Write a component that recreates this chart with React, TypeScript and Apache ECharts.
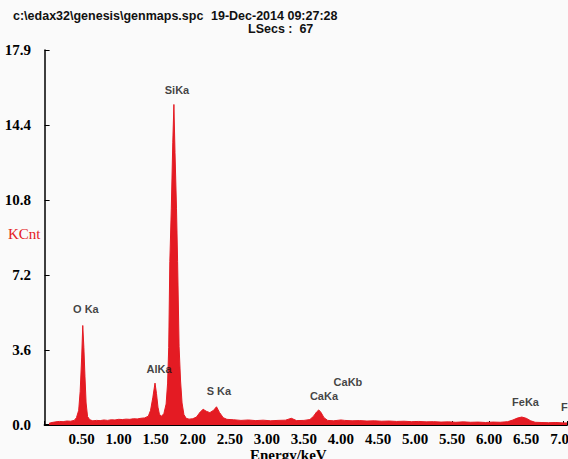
import React, { useEffect, useRef } from "react";
import * as echarts from "echarts";

const energies = [
  0.06, 0.1, 0.15, 0.2, 0.25, 0.3, 0.35, 0.4, 0.43, 0.46, 0.48, 0.5, 0.515, 0.53, 0.545, 0.56, 0.58, 0.61, 0.65,
  0.7, 0.75, 0.8, 0.85, 0.9, 0.95, 1.0, 1.05, 1.1, 1.15, 1.2, 1.25, 1.3, 1.35, 1.4, 1.43, 1.46, 1.49, 1.51, 1.53,
  1.55, 1.58, 1.61, 1.64, 1.66, 1.675, 1.69, 1.71, 1.73, 1.745, 1.76, 1.78, 1.795, 1.815, 1.835, 1.855, 1.88,
  1.91, 1.95, 2.0, 2.05, 2.1, 2.14, 2.18, 2.23, 2.28, 2.32, 2.36, 2.41, 2.46, 2.55, 2.65, 2.75, 2.85, 2.95, 3.05,
  3.15, 3.25, 3.33, 3.4, 3.5, 3.58, 3.63, 3.67, 3.7, 3.73, 3.77, 3.82, 3.9, 4.0, 4.05, 4.15, 4.25, 4.35, 4.45,
  4.55, 4.65, 4.75, 4.85, 4.95, 5.05, 5.15, 5.25, 5.35, 5.45, 5.55, 5.65, 5.75, 5.85, 5.95, 6.05, 6.15, 6.25,
  6.32, 6.38, 6.44, 6.5, 6.56, 6.62, 6.7, 6.8, 6.9, 7.0, 7.05,
];
const counts = [
  0.08, 0.12, 0.15, 0.17, 0.16, 0.19, 0.18, 0.22, 0.35, 0.7, 1.6, 3.2, 4.75, 3.7, 2.3, 1.05, 0.4, 0.25, 0.2,
  0.22, 0.21, 0.24, 0.22, 0.25, 0.24, 0.27, 0.26, 0.28, 0.27, 0.3, 0.29, 0.32, 0.34, 0.42, 0.7, 1.3, 2.0, 1.5, 0.85,
  0.5, 0.42, 0.55, 1.0, 2.0, 3.7, 7.8, 10.35, 13.5, 15.3, 13.0, 10.35, 7.8, 3.74, 2.1, 1.05, 0.5,
  0.32, 0.28, 0.3, 0.38, 0.62, 0.75, 0.66, 0.59, 0.7, 0.87, 0.6, 0.35, 0.27, 0.25, 0.22, 0.24, 0.21, 0.23, 0.2,
  0.22, 0.23, 0.32, 0.21, 0.22, 0.26, 0.42, 0.62, 0.72, 0.6, 0.35, 0.22, 0.2, 0.24, 0.22, 0.2, 0.21, 0.19, 0.2,
  0.18, 0.19, 0.17, 0.18, 0.16, 0.17, 0.15, 0.16, 0.14, 0.15, 0.13, 0.15, 0.13, 0.14, 0.12, 0.14, 0.13, 0.16,
  0.24, 0.33, 0.38, 0.32, 0.2, 0.13, 0.12, 0.11, 0.12, 0.1, 0.1,
];

const yTickLabels = ["0.0", "3.6", "7.2", "10.8", "14.4", "17.9"];

const peakNames = ["O Ka", "SiKa", "AlKa", "S Ka", "CaKa", "CaKb", "FeKa"];
const peakLabelE = [0.557, 1.787, 1.544, 2.353, 3.77, 4.094, 6.49];
const peakLabelY = [5.54, 16.0, 2.67, 1.62, 1.38, 2.03, 1.1];

const edgeLabel = { name: "FeKb", e: 6.97, y: 0.86 };

const RED = "#e41b23";

export default function App() {
  const ref = useRef<HTMLDivElement>(null);
  useEffect(() => {
    const chart = echarts.init(ref.current!, null, { renderer: "svg" });
    const spectrum = energies.map((e, i) => [e, counts[i]]);
    const peaks = peakNames.map((n, i) => ({ name: n, value: [peakLabelE[i], peakLabelY[i]] }));
    const serif = "'Liberation Serif', 'Times New Roman', serif";
    const sans = "'Liberation Sans', Arial, sans-serif";
    chart.setOption({
      animation: false,
      backgroundColor: "#fafafa",
      grid: { left: 44.6, right: 1, top: 50, bottom: 34, containLabel: false, outerBoundsMode: "none" },
      xAxis: {
        type: "value",
        min: 0,
        max: 7.05,
        interval: 0.5,
        splitLine: { show: false },
        axisLine: { lineStyle: { color: "#000", width: 2 } },
        axisTick: { inside: true, length: 4, lineStyle: { color: "#000", width: 1 } },
        axisLabel: {
          color: "#000",
          fontFamily: serif,
          fontWeight: "bold",
          fontSize: 15,
          margin: 6,
          formatter: (v: number) => (v === 0 || Math.abs(v * 2 - Math.round(v * 2)) > 1e-6 ? "" : v.toFixed(2)),
        },
      },
      yAxis: {
        type: "value",
        min: 0,
        max: 17.9,
        interval: 3.58,
        offset: 1.5,
        splitLine: { show: false },
        axisLine: { show: true, lineStyle: { color: "#000", width: 1.5 } },
        axisTick: { show: true, inside: true, length: 5, lineStyle: { color: "#000", width: 1 } },
        axisLabel: {
          color: "#000",
          fontFamily: serif,
          fontWeight: "bold",
          fontSize: 15,
          margin: 12,
          formatter: (v: number) => yTickLabels[Math.round(v / 3.58)] ?? "",
        },
      },
      series: [
        {
          type: "line",
          data: spectrum,
          showSymbol: false,
          symbol: "none",
          lineStyle: { color: RED, width: 1 },
          areaStyle: { color: RED, opacity: 1 },
          z: 2,
        },
        {
          type: "scatter",
          data: peaks,
          symbolSize: 0,
          clip: false,
          silent: true,
          z: 5,
          label: {
            show: true,
            position: "inside",
            formatter: (p: any) => p.name,
            color: "#111",
            fontFamily: sans,
            fontWeight: "bold",
            fontSize: 11,
          },
        },
        {
          type: "scatter",
          data: [{ name: edgeLabel.name, value: [edgeLabel.e, edgeLabel.y] }],
          symbolSize: 0,
          clip: false,
          silent: true,
          z: 5,
          label: {
            show: true,
            position: "right",
            distance: 0,
            formatter: (p: any) => p.name,
            color: "#111",
            fontFamily: sans,
            fontWeight: "bold",
            fontSize: 11,
          },
        },
      ],
      graphic: [
        {
          type: "text",
          left: 13,
          top: 9,
          style: { text: "c:\\edax32\\genesis\\genmaps.spc", fill: "#111", font: `bold 12.5px ${sans}` },
        },
        {
          type: "text",
          left: 211,
          top: 9,
          style: { text: "19-Dec-2014 09:27:28", fill: "#111", font: `bold 12.5px ${sans}` },
        },
        {
          type: "text",
          left: 248,
          top: 22,
          style: { text: "LSecs :  67", fill: "#111", font: `bold 12.5px ${sans}` },
        },
        {
          type: "text",
          left: 8,
          top: 226,
          style: { text: "KCnt", fill: RED, font: `15px ${serif}` },
        },
        {
          type: "text",
          left: 250,
          top: 447,
          style: { text: "Energy/keV", fill: "#000", font: `bold 15px ${serif}` },
        },
      ],
    });
    return () => chart.dispose();
  }, []);
  return <div ref={ref} style={{ position: "fixed", left: 0, top: 0, width: 568, height: 459 }} />;
}
